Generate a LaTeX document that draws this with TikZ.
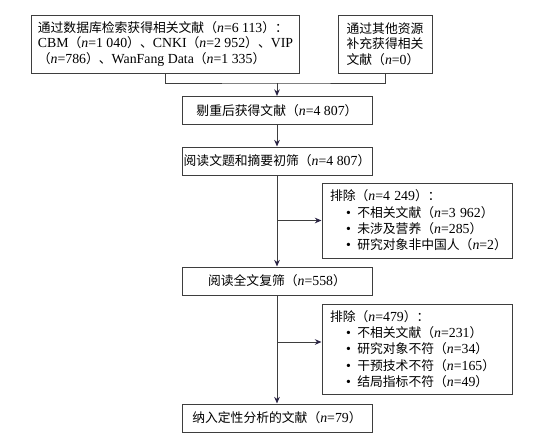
\documentclass[tikz,border=0pt]{standalone}
\usepackage{fontspec}
\setmainfont{Liberation Serif}[Scale=1.08]
\newfontfamily\cjk{Noto Sans CJK SC}
\usetikzlibrary{arrows.meta}
\definecolor{linec}{RGB}{62,62,62}
\definecolor{tipc}{RGB}{42,36,68}
\newcommand{\nv}[1]{{\rmfamily\textit{n}=#1}}
\newcommand{\lat}[1]{{\rmfamily #1}}
\newcommand{\itm}{\hspace*{12pt}\makebox[8.5pt][l]{\rmfamily\textbullet}}
\begin{document}
\begin{tikzpicture}[
        x=0.75pt, y=-0.75pt,
        every node/.style={font=\cjk\fontsize{9.6}{12}\selectfont, draw=linec, line width=0.75pt, inner sep=0pt},
        srcn/.style={minimum height=43.5pt, inner xsep=5pt, align=left, font=\cjk\fontsize{9.6}{11.6}\selectfont},
        stagen/.style={minimum width=142.5pt, minimum height=21pt, align=center},
        excln/.style={text width=130.5pt, inner xsep=6pt, align=left, font=\cjk\fontsize{9.6}{12.2}\selectfont},
        conn/.style={draw=linec, line width=0.75pt},
        arr/.style={conn, -{Stealth[length=5pt, width=4.2pt, color=tipc]}},
    ]
    \useasboundingbox (0,0) rectangle (540,437);
    \node[srcn, minimum width=191.25pt](dbn) at (165.5,44)
        {通过数据库检索获得相关文献（\nv{6~113}）：\\
         \lat{CBM}（\nv{1~040}）、\lat{CNKI}（\nv{2~952}）、\lat{VIP}\\
         （\nv{786}）、\lat{WanFang Data}（\nv{1~335}）};
    \node[srcn, minimum width=70.5pt](othern) at (385,44)
        {通过其他资源\\补充获得相关\\文献（\nv{0}）};
    \node[stagen](dedupn) at (277,110.5) {剔重后获得文献（\nv{4~807}）};
    \node[stagen](screenn) at (277,161) {阅读文题和摘要初筛（\nv{4~807}）};
    \node[excln, minimum height=56.25pt](excl1n) at (417,220.5)
        {排除（\nv{4~249}）：\\
         \itm 不相关文献（\nv{3~962}）\\
         \itm 未涉及营养（\nv{285}）\\
         \itm 研究对象非中国人（\nv{2}）};
    \node[stagen](fulln) at (277,281) {阅读全文复筛（\nv{558}）};
    \node[excln, minimum height=67.5pt](excl2n) at (417,349)
        {排除（\nv{479}）：\\
         \itm 不相关文献（\nv{231}）\\
         \itm 研究对象不符（\nv{34}）\\
         \itm 干预技术不符（\nv{165}）\\
         \itm 结局指标不符（\nv{49}）};
    \node[stagen](incln) at (277,418) {纳入定性分析的文献（\nv{79}）};
    \coordinate (mrg) at (277,83);
    \coordinate (cut2) at ([yshift=5.25pt]excl2n.west);
    \draw[conn] (dbn.south) |- (mrg) -| (othern.south);
    \draw[arr] (mrg) -- (dedupn);
    \draw[arr] (dedupn) -- (screenn);
    \draw[arr] (screenn) -- (fulln);
    \draw[arr] (fulln) -- (incln);
    \draw[arr] (screenn.south |- excl1n.west) -- (excl1n);
    \draw[arr] (fulln.south |- cut2) -- (cut2);
    \end{tikzpicture}
\end{document}
